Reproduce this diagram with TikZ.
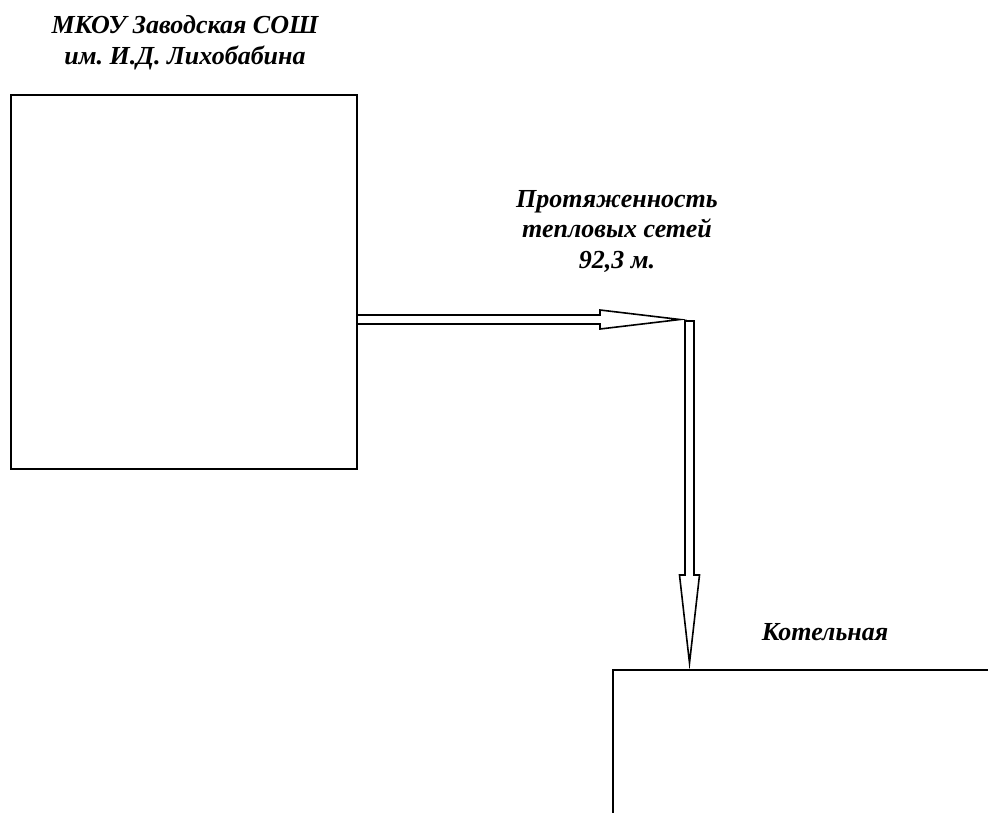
\documentclass[tikz,border=0pt]{standalone}
\usepackage{fontspec}
\setmainfont{Liberation Serif}
\frenchspacing
\usetikzlibrary{positioning,calc}
\tikzset{
	house/.style={
		rectangle,
		sharp corners,
		fill=white,
		draw=black, line width=1.8pt,
		inner sep=0pt},
	caption/.style={
		font=\fontsize{26}{30.5}\selectfont\bfseries\itshape,
		align=center,
		inner sep=0pt},
	pipe/.style={
		draw=black, line width=1.6pt, line join=miter}
}

\begin{document}
\begin{tikzpicture}[x=1pt, y=-1pt]
\useasboundingbox (0,0) rectangle (988,812);
\clip (0,0) rectangle (988,812);
\node[house, minimum width=346pt, minimum height=374pt] (school) at (184,282) {};
\node[house, minimum width=420pt, minimum height=200pt, anchor=north west] (boiler) at (612,669) {};
\node[caption, anchor=base] (schoolname) at (185,64) {МКОУ Заводская СОШ\\им. И.Д. Лихобабина};
\node[caption, anchor=base] (length) at (617,268) {Протяженность\\тепловых сетей\\92,3 м.};
\node[caption, anchor=base] (boilername) at (825,640) {Котельная};
\coordinate (htip) at (680,319.5);
\coordinate (vtop) at (689.5,321);
\coordinate (vtip) at ($(boiler.north west)+(77.5,-6)$);
\draw[pipe] ($(school.east |- htip)+(0,-4.5)$) -| ($(htip)+(-80,-9.5)$) -- (htip)
	-- ($(htip)+(-80,9.5)$) |- ($(school.east |- htip)+(0,4.5)$);
\draw[pipe] ($(vtop)+(-4.5,0)$) -- ($(vtip)+(-4.5,-88)$) -- ($(vtip)+(-10,-88)$) -- (vtip)
	-- ($(vtip)+(10,-88)$) -- ($(vtip)+(4.5,-88)$) -- ($(vtop)+(4.5,0)$) -- cycle;
\end{tikzpicture}
\end{document}
